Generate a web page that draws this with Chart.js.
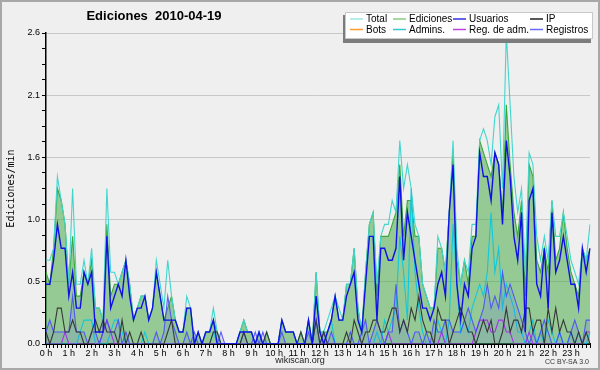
<!DOCTYPE html>
<html>
<head>
<meta charset="utf-8">
<script src="https://cdn.jsdelivr.net/npm/chart.js"></script>
<style>
  html, body { margin:0; padding:0; background:#efefef; }
  canvas { display:block; }
</style>
</head>
<body>
<canvas id="c" width="600" height="370"></canvas>
<script>
// one slot every 10 minutes, 144 slots in the day
const slots = [];
for (let h = 0; h < 24; h++) for (let m = 0; m < 60; m += 10) slots.push(h + ':' + (m < 10 ? '0' : '') + m);

const hourLabel = ' h';
const yTickMax = 2.6;

// edits per minute, one row per hour
const total = [
  0.7, 0.7, 0.8, 1.4, 1.2, 1.0,
  0.5, 1.3, 0.5, 0.5, 0.7, 0.5,
  0.8, 0.3, 0.3, 0.2, 1.3, 0.6,
  0.6, 0.5, 0.6, 0.7, 0.5, 0.2,
  0.3, 0.4, 0.4, 0.2, 0.3, 0.7,
  0.5, 0.3, 0.7, 0.4, 0.2, 0.1,
  0.1, 0.4, 0.3, 0.0, 0.1, 0.0,
  0.1, 0.1, 0.3, 0.1, 0.0, 0.0,
  0.0, 0.0, 0.0, 0.1, 0.2, 0.1,
  0.1, 0.0, 0.1, 0.0, 0.1, 0.0,
  0.0, 0.0, 0.2, 0.1, 0.1, 0.1,
  0.0, 0.1, 0.0, 0.2, 0.0, 0.6,
  0.1, 0.1, 0.2, 0.3, 0.4, 0.3,
  0.2, 0.5, 0.5, 0.8, 0.3, 0.1,
  0.6, 1.0, 1.1, 0.5, 0.9, 1.0,
  1.0, 1.2, 1.1, 1.7, 1.3, 1.5,
  1.3, 1.0, 0.9, 0.5, 0.4, 0.3,
  0.3, 0.9, 0.8, 0.6, 1.1, 1.7,
  0.8, 0.5, 0.7, 0.6, 1.0, 1.0,
  1.7, 1.8, 1.7, 1.5, 1.9, 2.0,
  1.3, 2.6, 2.0, 1.4, 1.1, 1.3,
  0.6, 1.6, 1.5, 0.9, 0.7, 0.9,
  0.7, 1.2, 0.9, 0.9, 1.1, 0.9,
  0.7, 0.6, 0.5, 0.8, 0.7, 1.0
];
const ediciones = [
  0.6, 0.5, 0.8, 1.3, 1.2, 1.0,
  0.5, 0.9, 0.4, 0.4, 0.6, 0.5,
  0.7, 0.3, 0.3, 0.2, 1.0, 0.4,
  0.5, 0.5, 0.6, 0.7, 0.5, 0.2,
  0.3, 0.4, 0.4, 0.2, 0.3, 0.6,
  0.4, 0.2, 0.3, 0.4, 0.2, 0.1,
  0.1, 0.3, 0.3, 0.0, 0.1, 0.0,
  0.1, 0.1, 0.2, 0.1, 0.0, 0.0,
  0.0, 0.0, 0.0, 0.1, 0.2, 0.1,
  0.1, 0.0, 0.1, 0.0, 0.1, 0.0,
  0.0, 0.0, 0.2, 0.1, 0.1, 0.1,
  0.0, 0.1, 0.0, 0.2, 0.0, 0.6,
  0.1, 0.1, 0.1, 0.2, 0.4, 0.2,
  0.2, 0.5, 0.5, 0.8, 0.3, 0.1,
  0.6, 1.0, 1.1, 0.4, 0.9, 0.9,
  0.9, 1.0, 1.1, 1.5, 0.9, 1.2,
  1.2, 0.9, 0.9, 0.5, 0.4, 0.3,
  0.3, 0.8, 0.8, 0.6, 1.1, 1.6,
  0.7, 0.5, 0.7, 0.5, 0.9, 0.9,
  1.7, 1.6, 1.5, 1.4, 1.6, 1.5,
  1.1, 2.0, 1.5, 1.1, 0.9, 1.2,
  0.4, 1.5, 1.4, 0.7, 0.6, 0.8,
  0.6, 1.2, 0.7, 0.8, 1.1, 0.8,
  0.6, 0.5, 0.4, 0.8, 0.7, 0.8
];
const usuarios = [
  0.5, 0.5, 0.7, 1.0, 0.8, 0.8,
  0.4, 0.6, 0.3, 0.3, 0.6, 0.5,
  0.6, 0.1, 0.1, 0.1, 0.9, 0.3,
  0.4, 0.5, 0.4, 0.7, 0.4, 0.2,
  0.3, 0.3, 0.4, 0.2, 0.3, 0.6,
  0.4, 0.2, 0.2, 0.2, 0.2, 0.1,
  0.1, 0.3, 0.3, 0.0, 0.1, 0.0,
  0.1, 0.1, 0.2, 0.0, 0.0, 0.0,
  0.0, 0.0, 0.0, 0.1, 0.1, 0.1,
  0.1, 0.0, 0.1, 0.0, 0.0, 0.0,
  0.0, 0.0, 0.2, 0.1, 0.1, 0.1,
  0.0, 0.0, 0.0, 0.2, 0.0, 0.4,
  0.1, 0.0, 0.1, 0.2, 0.4, 0.2,
  0.2, 0.4, 0.5, 0.6, 0.2, 0.1,
  0.5, 0.9, 0.9, 0.2, 0.8, 0.8,
  0.7, 0.7, 0.8, 1.4, 0.7, 1.1,
  0.9, 0.7, 0.5, 0.3, 0.3, 0.2,
  0.3, 0.5, 0.6, 0.4, 1.1, 1.5,
  0.5, 0.2, 0.5, 0.4, 0.8, 0.9,
  1.6, 1.4, 1.4, 1.2, 1.6, 1.5,
  1.0, 1.7, 1.4, 0.9, 0.7, 1.1,
  0.1, 1.2, 1.3, 0.5, 0.4, 0.8,
  0.3, 1.1, 0.6, 0.7, 0.9, 0.7,
  0.5, 0.5, 0.3, 0.8, 0.6, 0.8
];
const ip = [
  0.1, 0.0, 0.1, 0.3, 0.3, 0.1,
  0.1, 0.2, 0.1, 0.1, 0.0, 0.0,
  0.1, 0.2, 0.1, 0.2, 0.1, 0.1,
  0.1, 0.0, 0.2, 0.0, 0.1, 0.0,
  0.0, 0.1, 0.0, 0.0, 0.0, 0.0,
  0.0, 0.0, 0.1, 0.2, 0.0, 0.0,
  0.0, 0.0, 0.0, 0.0, 0.0, 0.0,
  0.0, 0.0, 0.1, 0.1, 0.0, 0.0,
  0.0, 0.0, 0.0, 0.0, 0.1, 0.0,
  0.0, 0.0, 0.0, 0.0, 0.1, 0.0,
  0.0, 0.0, 0.0, 0.0, 0.0, 0.0,
  0.0, 0.1, 0.0, 0.0, 0.0, 0.2,
  0.0, 0.1, 0.0, 0.0, 0.0, 0.0,
  0.0, 0.1, 0.0, 0.2, 0.1, 0.0,
  0.1, 0.1, 0.2, 0.2, 0.1, 0.1,
  0.2, 0.3, 0.3, 0.1, 0.2, 0.1,
  0.3, 0.2, 0.4, 0.2, 0.1, 0.1,
  0.0, 0.3, 0.2, 0.2, 0.0, 0.1,
  0.2, 0.3, 0.2, 0.1, 0.1, 0.0,
  0.1, 0.2, 0.1, 0.2, 0.0, 0.0,
  0.1, 0.3, 0.1, 0.2, 0.2, 0.1,
  0.3, 0.3, 0.1, 0.2, 0.2, 0.0,
  0.3, 0.1, 0.3, 0.1, 0.2, 0.1,
  0.1, 0.0, 0.1, 0.0, 0.1, 0.0
];
const bots = [];
const admins = [
  0.0, 0.0, 0.0, 0.0, 0.0, 0.0,
  0.0, 0.0, 0.0, 0.1, 0.2, 0.2,
  0.2, 0.0, 0.0, 0.0, 0.0, 0.1,
  0.2, 0.2, 0.1, 0.0, 0.0, 0.0,
  0.0, 0.0, 0.1, 0.0, 0.0, 0.0,
  0.0, 0.0, 0.0, 0.0, 0.0, 0.0,
  0.0, 0.0, 0.0, 0.0, 0.0, 0.0,
  0.0, 0.0, 0.1, 0.0, 0.0, 0.0,
  0.0, 0.0, 0.0, 0.0, 0.0, 0.0,
  0.0, 0.0, 0.0, 0.0, 0.0, 0.0,
  0.0, 0.0, 0.0, 0.0, 0.0, 0.0,
  0.0, 0.0, 0.0, 0.0, 0.0, 0.0,
  0.0, 0.0, 0.1, 0.2, 0.0, 0.0,
  0.0, 0.0, 0.0, 0.0, 0.0, 0.0,
  0.0, 0.0, 0.0, 0.1, 0.0, 0.2,
  0.1, 0.2, 0.3, 0.9, 0.6, 0.2,
  1.3, 0.6, 0.3, 0.1, 0.0, 0.0,
  0.0, 0.2, 0.1, 0.0, 0.2, 1.0,
  0.5, 0.1, 0.2, 0.1, 0.3, 0.4,
  0.5, 0.4, 0.6, 1.1, 0.6, 0.8,
  0.3, 0.5, 0.4, 0.3, 0.1, 0.1,
  0.0, 0.1, 0.2, 0.0, 0.1, 0.0,
  0.2, 0.1, 0.0, 0.1, 0.0, 0.0,
  0.1, 0.0, 0.1, 0.0, 0.0, 0.1
];
const regAdm = [
  0.0, 0.0, 0.0, 0.0, 0.0, 0.1,
  0.0, 0.0, 0.0, 0.0, 0.0, 0.0,
  0.0, 0.0, 0.0, 0.1, 0.2, 0.1,
  0.0, 0.0, 0.0, 0.0, 0.0, 0.0,
  0.0, 0.0, 0.0, 0.0, 0.0, 0.0,
  0.0, 0.0, 0.0, 0.0, 0.0, 0.0,
  0.0, 0.0, 0.0, 0.0, 0.0, 0.0,
  0.0, 0.0, 0.0, 0.0, 0.0, 0.0,
  0.0, 0.0, 0.0, 0.0, 0.0, 0.0,
  0.0, 0.0, 0.0, 0.0, 0.0, 0.0,
  0.0, 0.0, 0.0, 0.0, 0.0, 0.0,
  0.0, 0.0, 0.0, 0.0, 0.0, 0.0,
  0.0, 0.0, 0.0, 0.0, 0.0, 0.0,
  0.0, 0.0, 0.0, 0.0, 0.0, 0.0,
  0.0, 0.0, 0.0, 0.0, 0.0, 0.0,
  0.1, 0.0, 0.0, 0.0, 0.0, 0.0,
  0.0, 0.0, 0.0, 0.0, 0.0, 0.0,
  0.0, 0.0, 0.1, 0.0, 0.0, 0.0,
  0.0, 0.0, 0.0, 0.0, 0.0, 0.1,
  0.2, 0.2, 0.2, 0.1, 0.1, 0.2,
  0.2, 0.1, 0.1, 0.0, 0.0, 0.0,
  0.0, 0.1, 0.0, 0.0, 0.0, 0.0,
  0.0, 0.0, 0.0, 0.0, 0.0, 0.0,
  0.0, 0.0, 0.0, 0.0, 0.1, 0.1
];
const registros = [
  0.1, 0.2, 0.1, 0.1, 0.1, 0.1,
  0.1, 0.4, 0.1, 0.1, 0.1, 0.0,
  0.1, 0.1, 0.0, 0.1, 0.2, 0.1,
  0.1, 0.2, 0.0, 0.1, 0.0, 0.0,
  0.0, 0.0, 0.0, 0.0, 0.0, 0.1,
  0.0, 0.1, 0.4, 0.2, 0.1, 0.0,
  0.0, 0.1, 0.0, 0.1, 0.0, 0.0,
  0.0, 0.0, 0.0, 0.0, 0.1, 0.0,
  0.0, 0.0, 0.0, 0.0, 0.1, 0.0,
  0.0, 0.1, 0.0, 0.1, 0.0, 0.0,
  0.0, 0.0, 0.1, 0.0, 0.0, 0.0,
  0.0, 0.0, 0.0, 0.1, 0.0, 0.2,
  0.0, 0.1, 0.0, 0.1, 0.0, 0.0,
  0.0, 0.0, 0.1, 0.0, 0.0, 0.1,
  0.2, 0.0, 0.1, 0.2, 0.1, 0.0,
  0.1, 0.1, 0.5, 0.1, 0.2, 0.1,
  0.0, 0.1, 0.1, 0.0, 0.1, 0.0,
  0.2, 0.1, 0.1, 0.2, 0.2, 0.1,
  0.1, 0.1, 0.2, 0.3, 0.2, 0.1,
  0.2, 0.3, 0.5, 0.3, 0.4, 0.3,
  0.6, 0.4, 0.5, 0.4, 0.3, 0.2,
  0.1, 0.0, 0.1, 0.0, 0.1, 0.2,
  0.1, 0.0, 0.0, 0.1, 0.0, 0.0,
  0.1, 0.2, 0.1, 0.0, 0.2, 0.2
];

const FONT = '"Liberation Sans", Arial, sans-serif';

function series(label, data, color, order, extra){
  return Object.assign({ label, data, borderColor: color, backgroundColor: color, borderWidth: 1.1,
    pointRadius: 0, tension: 0, fill: false, order }, extra || {});
}

const datasets = [
  series('Total', total, '#40d6cc', 6, { legendColor: '#9fe6e0' }),
  series('Ediciones', ediciones, '#3aa83a', 7, { fill: 'origin', backgroundColor: 'rgba(60,165,60,0.5)', legendColor: '#86cc86' }),
  series('Usuarios', usuarios, '#1010e6', 1, { borderWidth: 1.4, legendColor: '#3030e0' }),
  series('IP', ip, '#383838', 2, { legendColor: '#222222' }),
  series('Bots', bots, '#ff9a30', 8, { legendColor: '#ff9a30' }),
  series('Admins.', admins, '#10c8dc', 5, { legendColor: '#30c8d8' }),
  series('Reg. de adm.', regAdm, '#b030e0', 4, { legendColor: '#c040e0' }),
  series('Registros', registros, 'rgba(70,70,255,0.85)', 3, { fill: 'origin', backgroundColor: 'rgba(90,90,255,0.15)', legendColor: '#6a6aff' })
];

// title, legend box, footer and frame
const decor = {
  id: 'decor',
  beforeDraw(chart){
    const c = chart.ctx;
    c.save();
    c.fillStyle = '#efefef';
    c.fillRect(0, 0, chart.width, chart.height);
    c.restore();
  },
  afterDraw(chart){
    const c = chart.ctx;
    c.save();
    // frame
    c.strokeStyle = '#a8a8a8'; c.lineWidth = 2;
    c.strokeRect(1, 1, chart.width - 2, chart.height - 2);
    // title
    c.fillStyle = '#000'; c.font = 'bold 13px ' + FONT;
    c.textAlign = 'center'; c.textBaseline = 'middle';
    c.fillText('Ediciones  2010-04-19', 154, 16);
    // legend
    c.fillStyle = '#7c7c7c'; c.fillRect(343, 15, 248, 28);
    c.fillStyle = '#ffffff'; c.fillRect(345, 12, 248, 27);
    c.strokeStyle = '#c8c8c8'; c.lineWidth = 1; c.strokeRect(345.5, 12.5, 247, 26);
    const cols = [350, 393, 453, 530];
    const rows = [18.5, 29];
    c.font = '10px ' + FONT; c.textAlign = 'left';
    chart.data.datasets.forEach((d, i) => {
      const x = cols[i % 4], y = rows[Math.floor(i / 4)];
      c.strokeStyle = d.legendColor; c.lineWidth = 1.5;
      c.beginPath(); c.moveTo(x, y + 0.5); c.lineTo(x + 13, y + 0.5); c.stroke();
      c.fillStyle = '#000'; c.fillText(d.label, x + 16, y + 1);
    });
    // footer
    c.fillStyle = '#222'; c.font = '9px ' + FONT; c.textAlign = 'center';
    c.fillText('wikiscan.org', 300, 361);
    c.font = '7px ' + FONT; c.textAlign = 'right'; c.fillStyle = '#333';
    c.fillText('CC BY-SA 3.0', 589, 362);
    c.restore();
  }
};

new Chart(document.getElementById('c'), {
  type: 'line',
  data: { labels: slots, datasets },
  options: {
    responsive: false, animation: false, devicePixelRatio: 1,
    layout: { padding: { left: 0, right: 10, top: 33, bottom: 0 } },
    plugins: { legend: { display: false }, tooltip: { enabled: false }, title: { display: false } },
    scales: {
      x: {
        type: 'category', offset: false, z: 1,
        grid: { display: true, drawOnChartArea: false, tickLength: 4, tickColor: '#000', tickWidth: 1 },
        border: { color: '#000', width: 2 },
        ticks: { autoSkip: false, maxRotation: 0, minRotation: 0, padding: 0, color: '#000',
          font: { family: FONT, size: 9 },
          callback: (v, i) => i % 6 === 0 ? (i / 6) + hourLabel : '' },
        afterFit: s => { s.height = 26; }
      },
      y: {
        min: 0, max: yTickMax,
        grid: { color: c => (c.index % 4 === 0 && c.index > 0) ? '#c8c8c8' : 'rgba(0,0,0,0)',
          tickColor: '#000', tickLength: 4, lineWidth: 1 },
        border: { color: '#000', width: 1.5 },
        ticks: { stepSize: 0.13, padding: 2, color: '#000', autoSkip: false,
          font: { family: FONT, size: 9 },
          callback: (v, i) => i % 4 === 0 ? v.toFixed(1) : '' },
        title: { display: true, text: 'Ediciones/min', color: '#000',
          font: { family: '"DejaVu Sans Mono", monospace', size: 10 }, padding: { top: 5, bottom: 0 } },
        afterFit: s => { s.width = 46; }
      }
    }
  },
  plugins: [decor]
});
</script>
</body>
</html>
